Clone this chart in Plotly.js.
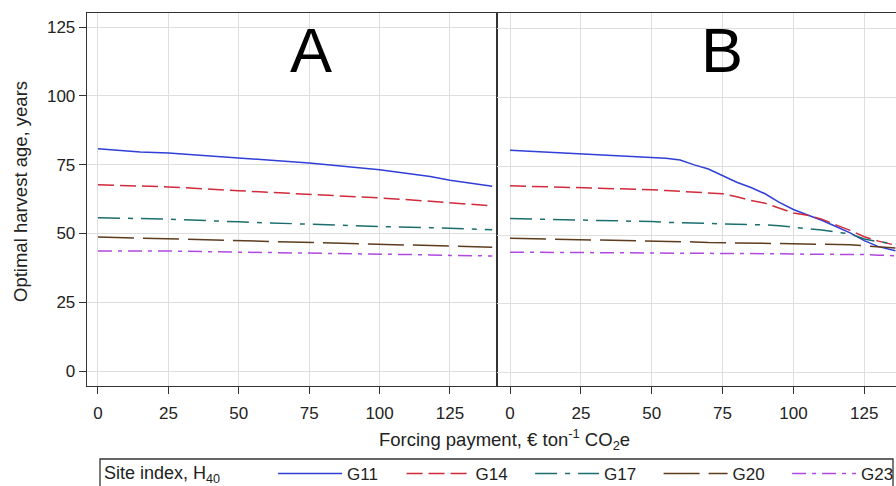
<!DOCTYPE html>
<html>
<head>
<meta charset="utf-8">
<script src="https://cdn.plot.ly/plotly-3.0.1.min.js"></script>
<style>html,body{margin:0;padding:0;background:#fff;}#chart{width:896px;height:486px;}</style>
</head>
<body>
<div id="chart"></div>
<script>
// Panel A: forcing payment values and optimal harvest ages
var xA = [0, 15, 25, 50, 75, 100, 118, 125, 140];
var aG11 = [80.8, 79.6, 79.2, 77.3, 75.6, 73.1, 70.7, 69.3, 67.1];
var aG14 = [67.7, 67.2, 66.9, 65.5, 64.3, 62.9, 61.7, 61.2, 60.0];
var aG17 = [55.7, 55.4, 55.2, 54.2, 53.3, 52.5, 52.1, 51.9, 51.3];
var aG20 = [48.7, 48.3, 48.0, 47.3, 46.8, 46.2, 45.7, 45.5, 45.0];
var aG23 = [43.6, 43.6, 43.6, 43.2, 42.9, 42.5, 42.2, 42.0, 41.8];

// Panel B
var xB = [0, 25, 50, 55, 60, 65, 70, 75, 80, 85, 90, 95, 100, 105, 110, 115, 120, 125, 130, 136];
var bG11 = [80.8, 79.6, 78.4, 77.9, 77.3, 75.5, 74.0, 71.5, 69.2, 67.3, 65.0, 61.9, 59.3, 57.3, 55.4, 53.1, 50.8, 48.0, 45.8, 44.3];
var bG14 = [67.9, 67.3, 66.5, 66.2, 65.9, 65.7, 65.4, 65.0, 63.9, 62.6, 61.6, 59.8, 58.0, 57.2, 55.8, 53.7, 51.7, 49.4, 47.8, 46.3];
var bG17 = [56.0, 55.5, 54.9, 54.6, 54.5, 54.4, 54.3, 54.1, 54.0, 53.9, 53.7, 53.4, 52.9, 52.4, 51.8, 51.1, 50.4, 48.6, 47.6, 46.8];
var bG20 = [48.8, 48.4, 47.8, 47.7, 47.6, 47.5, 47.3, 47.2, 47.1, 47.1, 47.0, 46.9, 46.9, 46.8, 46.7, 46.6, 46.5, 46.1, 45.8, 45.3];
var bG23 = [43.8, 43.7, 43.6, 43.6, 43.6, 43.5, 43.5, 43.4, 43.4, 43.3, 43.3, 43.2, 43.1, 43.1, 43.0, 43.0, 42.9, 42.9, 42.7, 42.5];

var seriesNames = ['G11', 'G14', 'G17', 'G20', 'G23'];
var xTicks = [0, 25, 50, 75, 100, 125];
var yTicks = [0, 25, 50, 75, 100, 125];

var colors = ['#2f3fd8', '#d12a3a', '#1c6e6e', '#5e3c1e', '#b048e0'];
var dashes = ['solid', '16px,6px', '22px,8px,5px,8px', '36px,9px', '14px,6px,4px,6px'];

var aData = [aG11, aG14, aG17, aG20, aG23];
var bData = [bG11, bG14, bG17, bG20, bG23];

var traces = [];
for (var i = 0; i < seriesNames.length; i++) {
  traces.push({x: xA, y: aData[i], xaxis: 'x', yaxis: 'y', type: 'scatter', mode: 'lines',
    name: seriesNames[i], line: {color: colors[i], width: 1.5, dash: dashes[i]}, showlegend: true});
}
for (var j = 0; j < seriesNames.length; j++) {
  traces.push({x: xB, y: bData[j], xaxis: 'x2', yaxis: 'y2', type: 'scatter', mode: 'lines',
    name: seriesNames[j], line: {color: colors[j], width: 1.5, dash: dashes[j]}, showlegend: false});
}

var L = 87, W = 809, T = 13, H = 373, FW = 896, FH = 486;
function px(p) { return (p - L) / W; }
function py(p) { return (T + H - p) / H; }

var FAM = 'Arial, Liberation Sans, sans-serif';
var tickFont = {family: FAM, size: 17, color: '#222'};
var gridC = '#dedede';

var layout = {
  width: FW, height: FH,
  margin: {l: L, r: 0, t: T, b: 100},
  paper_bgcolor: '#fff', plot_bgcolor: '#fff',
  font: {family: FAM, color: '#222'},
  xaxis: {domain: [0, 0.5068], range: [-3.9, 141.7], tickvals: xTicks, ticktext: xTicks.map(String),
    ticks: 'outside', ticklen: 7, tickcolor: '#333', tickfont: tickFont, ticklabelstandoff: 4,
    showgrid: true, gridcolor: gridC, zeroline: false, automargin: false,
    showline: true, linecolor: '#333', linewidth: 1.3, mirror: true},
  yaxis: {domain: [0, 1], range: [-5.45, 130.1], tickvals: yTicks, ticktext: yTicks.map(String),
    ticks: 'outside', ticklen: 7, tickcolor: '#333', tickfont: tickFont, automargin: false,
    showgrid: true, gridcolor: gridC, zeroline: false,
    showline: true, linecolor: '#333', linewidth: 1.3, mirror: true},
  xaxis2: {domain: [0.5068, 1], range: [-4.6, 136.2], anchor: 'y2', tickvals: xTicks, ticktext: xTicks.map(String),
    ticks: 'outside', ticklen: 7, tickcolor: '#333', tickfont: tickFont, ticklabelstandoff: 4,
    showgrid: true, gridcolor: gridC, zeroline: false, automargin: false,
    showline: true, linecolor: '#333', linewidth: 1.3, mirror: true},
  yaxis2: {domain: [0, 1], range: [-4.85, 130.7], anchor: 'x2', tickvals: yTicks, showticklabels: false,
    ticks: '', showgrid: true, gridcolor: gridC, zeroline: false, automargin: false,
    showline: true, linecolor: '#333', linewidth: 1.3, mirror: false},
  showlegend: true,
  legend: {orientation: 'h', xref: 'container', yref: 'container',
    x: 102 / FW, xanchor: 'left', y: (FH - 456) / FH, yanchor: 'top',
    bgcolor: 'rgba(0,0,0,0)', borderwidth: 0,
    font: {family: FAM, size: 17, color: '#222'},
    title: {text: 'Site index, H<sub>40</sub>&nbsp;&nbsp;&nbsp;&nbsp;&nbsp;&nbsp;&nbsp;&nbsp;&nbsp;', side: 'left', font: {family: FAM, size: 18, color: '#222'}},
    itemwidth: 64, entrywidth: 49.5, entrywidthmode: 'pixels', traceorder: 'normal'},
  shapes: [
    {type: 'rect', xref: 'paper', yref: 'paper', x0: px(100), x1: px(893), y0: py(459), y1: py(500),
      line: {color: '#333', width: 1.3}, fillcolor: 'rgba(0,0,0,0)', layer: 'above'}
  ],
  annotations: [
    {text: 'A', xref: 'paper', yref: 'paper', x: px(311), y: py(50), showarrow: false,
      font: {family: FAM, size: 63, color: '#000'}, xanchor: 'center', yanchor: 'middle'},
    {text: 'B', xref: 'paper', yref: 'paper', x: px(722), y: py(50), showarrow: false,
      font: {family: FAM, size: 63, color: '#000'}, xanchor: 'center', yanchor: 'middle'},
    {text: 'Forcing payment, € ton<sup>-1</sup> CO<sub>2</sub>e', xref: 'paper', yref: 'paper',
      x: px(504), y: py(439), showarrow: false, font: {family: FAM, size: 18.5, color: '#222'}, xanchor: 'center', yanchor: 'middle'},
    {text: 'Optimal harvest age, years', xref: 'paper', yref: 'paper', textangle: -90,
      x: px(20), y: py(192), showarrow: false, font: {family: FAM, size: 18.5, color: '#222'}, xanchor: 'center', yanchor: 'middle'}
  ]
};

Plotly.newPlot('chart', traces, layout, {displayModeBar: false, staticPlot: true});
</script>
</body>
</html>
